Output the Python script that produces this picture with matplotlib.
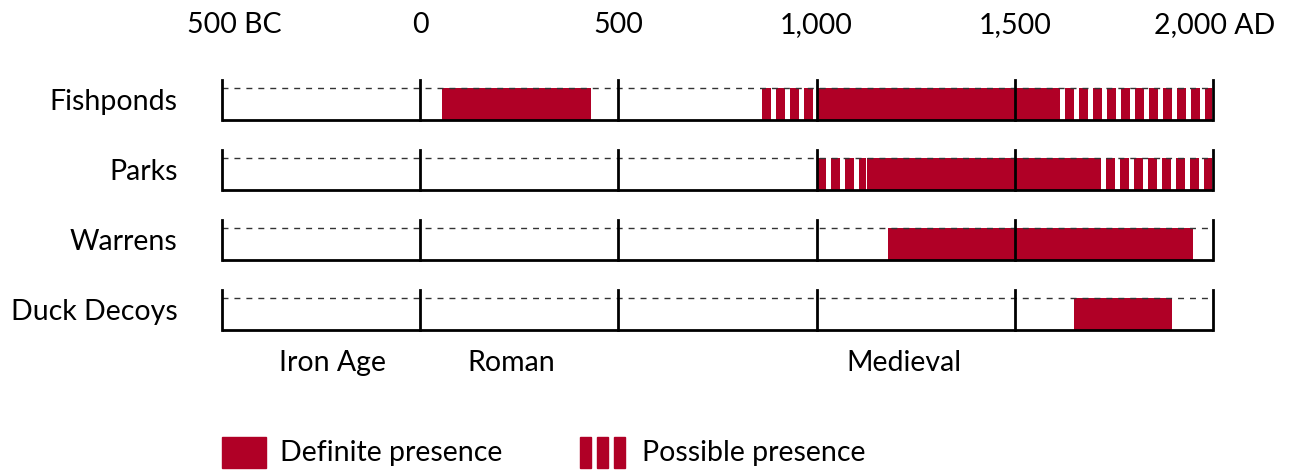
import numpy as np
import matplotlib
matplotlib.use('Agg')
import matplotlib.pyplot as plt

plt.rcParams['font.family'] = ['Lato', 'DejaVu Sans']

# data
rows = ['Fishponds', 'Parks', 'Warrens', 'Duck Decoys']
definite = [
    [(55, 431), (1000, 1615)],
    [(1128, 1718)],
    [(1181, 1950)],
    [(1650, 1897)],
]
possible = [
    [(863, 1000), (1615, 2000)],
    [(1000, 1128), (1718, 2000)],
    [],
    [],
]
ticks = [-500, 0, 500, 1000, 1500, 2000]
tick_labels = ['500 BC', '0', '500', '1,000', '1,500', '2,000 AD']
label_pos = [-470, 0, 500, 1000, 1500, 2005]
periods = ['Iron Age', 'Roman', 'Medieval']
period_pos = [-220, 230, 1220]

red = '#b00026'
xmin, xmax = -500, 2000
yr_px = 991 / 2500.0  # pixels per year
fs = 20.5

fig = plt.figure(figsize=(12.9, 4.75), dpi=100)
ax = fig.add_axes([222 / 1290, 0, 991 / 1290, 1])
ax.set_xlim(xmin, xmax)
ax.set_ylim(475, 0)
ax.axis('off')

stripe_p = 14 / yr_px
stripe_w = 9 / yr_px

for i, name in enumerate(rows):
    base = 120 + 70 * i
    h = 32
    # definite bars
    ax.broken_barh([(a, b - a) for a, b in definite[i]], (base - h, h),
                   facecolors=red, zorder=1)
    # possible: striped
    for a, b in possible[i]:
        after_def = any(abs(d[1] - a) < 1 for d in definite[i])
        s = a + (5 / yr_px if after_def else 0)
        starts = np.arange(s, b - 2 / yr_px, stripe_p)
        ax.broken_barh([(x, min(stripe_w, b - x - 1 / yr_px)) for x in starts],
                       (base - h, h), facecolors=red, zorder=1)
    # frame
    ax.plot([xmin, xmax], [base - h, base - h], color='#333333', lw=1,
            ls=(0, (4.3, 4.3)), zorder=2, clip_on=False)
    ax.plot([xmin, xmax], [base, base], color='black', lw=2,
            zorder=3, clip_on=False, solid_capstyle='butt')
    for t in ticks:
        ax.plot([t, t], [base - 40, base], color='black', lw=2,
                zorder=3, clip_on=False)
    ax.text(-612, base - h / 2 - 2, name, ha='right', va='center', fontsize=fs)

for x, lab in zip(label_pos, tick_labels):
    ax.text(x, 25, lab, ha='center', va='center', fontsize=fs)

for p, x in zip(periods, period_pos):
    ax.text(x, 363, p, ha='center', va='center', fontsize=fs)

# legend
ax.add_patch(plt.Rectangle((xmin, 437), 44 / yr_px, 31, color=red, clip_on=False))
ax.text(xmin + 58 / yr_px, 453, 'Definite presence', ha='left', va='center', fontsize=fs)
lx = xmin + 358 / yr_px
for k in range(3):
    ax.add_patch(plt.Rectangle((lx + k * 17 / yr_px, 437), 11 / yr_px, 31,
                               color=red, clip_on=False))
ax.text(xmin + 420 / yr_px, 453, 'Possible presence', ha='left', va='center', fontsize=fs)

fig.savefig('out.png', dpi=100)
